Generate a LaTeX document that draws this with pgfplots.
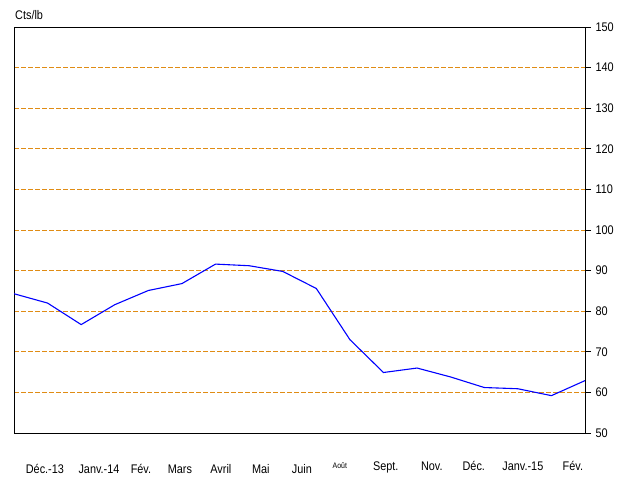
\documentclass[border=0pt]{standalone}
\usepackage{fontspec}
\setmainfont{Liberation Sans}[FakeStretch=0.87]
\usepackage{pgfplots}
\pgfplotsset{compat=1.18}
\definecolor{gridorange}{RGB}{224,140,20}
\begin{document}
\begin{tikzpicture}
\path[use as bounding box] (0,0) rectangle (633bp,477bp);
\begin{axis}[
  at={(14bp,44bp)}, anchor=south west,
  scale only axis, width=571bp, height=406bp,
  xmin=0, xmax=17, ymin=50, ymax=150,
  axis line style={black, line width=0.9bp},
  ytick={50,60,...,150},
  ytick pos=right, yticklabel pos=right,
  tick align=outside,
  major tick length=6bp,
  ytick style={black, line width=0.8bp},
  xtick={0.92,2.53,3.78,4.94,6.16,7.35,8.57,9.70,11.07,12.44,13.69,15.15,16.64},
  xticklabels={Déc.-13,Janv.-14,Fév.,Mars,Avril,Mai,Juin,
    \raisebox{5bp}{\fontsize{8bp}{9bp}\selectfont Août},
    \raisebox{3bp}{Sept.},\raisebox{3bp}{Nov.},\raisebox{3bp}{Déc.},\raisebox{3bp}{Janv.-15},\raisebox{3bp}{Fév.}},
  xtick style={draw=none},
  xticklabel style={anchor=base, yshift=-35bp},
  tick label style={font=\fontsize{12.5bp}{14bp}\selectfont},
  yticklabel style={xshift=1bp},
  /pgf/number format/assume math mode=true,
  ymajorgrids,
  grid style={gridorange, line width=0.9bp, dash pattern=on 5bp off 2bp},
]
\addplot[blue, line width=1.1bp, mark=none] coordinates {
(0,84.3) (1,82.0) (2,76.7) (3,81.6) (4,85.1) (5,86.8) (6,91.6) (7,91.2)
(8,89.8) (9,85.6) (10,73.0) (11,64.9) (12,66.0) (13,63.8) (14,61.2)
(15,60.9) (16,59.2) (17,62.9)
};
\end{axis}
\node[anchor=base west, font=\fontsize{12.5bp}{14bp}\selectfont, inner sep=0pt] at (15bp,457bp) {Cts/lb};
\end{tikzpicture}
\end{document}
